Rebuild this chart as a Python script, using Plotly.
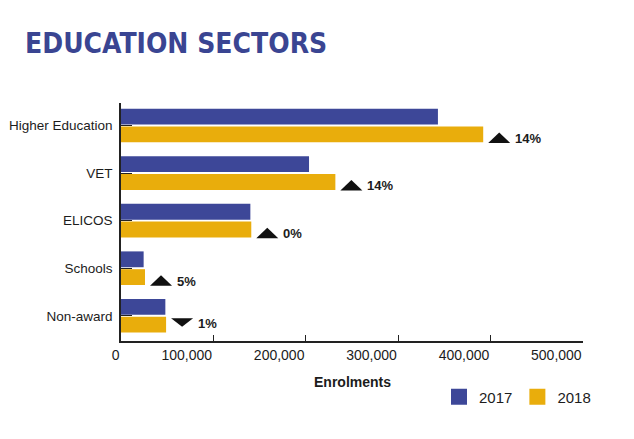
import plotly.graph_objects as go

categories = ["Higher Education", "VET", "ELICOS", "Schools", "Non-award"]
enrol_2017 = [343000, 203500, 140000, 24500, 48000]
enrol_2018 = [392000, 232000, 141000, 26000, 48800]
change_pct = [14, 14, 0, 5, 1]
change_dir = ["up", "up", "up", "up", "down"]
x_ticks = [0, 100000, 200000, 300000, 400000, 500000]

BLUE = "#3d4798"
GOLD = "#e9ad0c"
TXT = "#1c1c1c"

fig = go.Figure()
fig.add_trace(go.Bar(name="2017", y=categories, x=enrol_2017, orientation="h",
                     marker=dict(color=BLUE, line=dict(width=0)), showlegend=False))
fig.add_trace(go.Bar(name="2018", y=categories, x=enrol_2018, orientation="h",
                     marker=dict(color=GOLD, line=dict(width=0)), showlegend=False))
# legend entries (larger square swatches)
for nm, col in (("2017", BLUE), ("2018", GOLD)):
    fig.add_trace(go.Scatter(name=nm, x=[None], y=[None], mode="markers",
                             marker=dict(symbol="square", size=16, color=col),
                             showlegend=True, hoverinfo="skip"))

shapes = []
annos = []
for cat, val, pct, d in zip(categories, enrol_2018, change_pct, change_dir):
    if d == "up":
        path = "M5,-17.5 L27,-17.5 L16,-7 Z"
        ys = -12.8
    else:
        path = "M5,-2.5 L27,-2.5 L16,-11 Z"
        ys = -7.5
    shapes.append(dict(type="path", xref="x", yref="y", xsizemode="pixel", ysizemode="pixel",
                       xanchor=val, yanchor=cat, path=path,
                       fillcolor="#111111", line=dict(width=0), layer="above"))
    annos.append(dict(xref="x", yref="y", x=val, y=cat, xanchor="left", yanchor="middle",
                      xshift=30, yshift=ys, showarrow=False,
                      text=f"<b>{pct}%</b>", font=dict(size=13, color=TXT)))

# x-axis title
annos.append(dict(xref="paper", yref="paper", x=0.5, y=-41/238,
                  xanchor="center", yanchor="middle", showarrow=False,
                  text="<b>Enrolments</b>", font=dict(size=14, color=TXT)))

fig.update_layout(
    width=634, height=439,
    margin=dict(l=113, r=59, t=95, b=106, autoexpand=False),
    paper_bgcolor="white", plot_bgcolor="white",
    font=dict(family="Liberation Sans, Arial, sans-serif", size=14, color=TXT),
    barmode="group", bargap=0.252, bargroupgap=0.11,
    title=dict(text="EDUCATION SECTORS", x=17/634, xanchor="left", xref="container",
               y=1-35/439, yanchor="middle", yref="container",
               font=dict(family="DejaVu Sans Condensed", size=28, color="#3a4592", weight="bold")),
    shapes=shapes, annotations=annos,
    legend=dict(orientation="h", xref="container", yref="container",
                x=431/634, xanchor="left", y=1-389/439, yanchor="middle",
                font=dict(size=15, color=TXT), bgcolor="rgba(0,0,0,0)",
                itemclick=False, itemdoubleclick=False),
    showlegend=True,
)
fig.update_xaxes(range=[0, 500000], tickvals=x_ticks, tickformat=",",
                 showgrid=False, zeroline=False, automargin=False,
                 showline=True, linecolor="#222222", linewidth=1.5,
                 ticks="inside", ticklen=6, tickwidth=1.2, tickcolor="#222222",
                 ticklabelposition="outside left",
                 tickfont=dict(size=14, color=TXT))
fig.update_yaxes(type="category", categoryorder="array", categoryarray=categories,
                 range=[4.53, -0.473], showgrid=False, zeroline=False, automargin=False,
                 showline=True, linecolor="#222222", linewidth=1.5,
                 ticks="inside", ticklen=11, tickwidth=1.2, tickcolor="#222222",
                 ticklabelstandoff=4,
                 tickfont=dict(size=13.5, color=TXT))

fig.write_html("out.html")
